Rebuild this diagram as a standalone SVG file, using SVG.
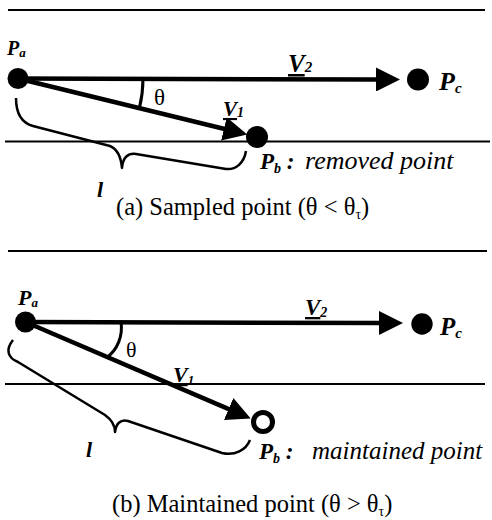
<svg xmlns="http://www.w3.org/2000/svg" width="492" height="520" viewBox="0 0 492 520">
<defs>
<style>
.sep{stroke:#000;stroke-width:2;fill:none}
.vec{stroke:#000;stroke-width:4.5;fill:none}
.arc{stroke:#000;stroke-width:3;fill:none}
.brace{stroke:#000;stroke-width:2.5;fill:none;stroke-linejoin:round}
.dot{fill:#000}
.ring{fill:#fff;stroke:#000;stroke-width:5}
.lab{font-family:"Liberation Serif","Times New Roman",serif;font-weight:bold;font-style:italic;fill:#000}
.it{font-family:"Liberation Serif","Times New Roman",serif;font-style:italic;fill:#000}
.rm{font-family:"Liberation Serif","Times New Roman",serif;fill:#000}
.ul{text-decoration:underline}
</style>
<marker id="ah" markerUnits="userSpaceOnUse" markerWidth="24" markerHeight="24" refX="4" refY="12" orient="auto">
<path d="M0,0 L24,12 L0,24 z" fill="#000"/>
</marker>
</defs>
<rect width="492" height="520" fill="#fff"/>

<g id="separators">
<line class="sep" x1="8" y1="10" x2="485" y2="10"/>
<line class="sep" x1="5" y1="141.5" x2="490" y2="141.5"/>
<line class="sep" x1="8" y1="251" x2="487" y2="251"/>
<line class="sep" x1="5" y1="384" x2="485" y2="384"/>
</g>

<g id="connectors">
<line class="vec" x1="18" y1="78.5" x2="380" y2="79.5" marker-end="url(#ah)"/>
<line class="vec" x1="18" y1="78.5" x2="227.8" y2="129.8" marker-end="url(#ah)"/>
<path class="arc" d="M143,78.5 A125,125 0 0 1 139.4,108.2"/>
<path class="brace" d="M16,98 C16,114 22,123 33,126 L110,146 C117,149 121,157 122,168 C123,157 128,153 136,154 L226,169 C236,170 244,163 246,151"/>
<line class="vec" x1="25.5" y1="322" x2="383" y2="323" marker-end="url(#ah)"/>
<line class="vec" x1="25.5" y1="322" x2="232.3" y2="410.6" marker-end="url(#ah)"/>
<path class="arc" d="M121,322 C123,335 118,350 106,358"/>
<path class="brace" d="M13,340 C5,350 8,358 18,362 L105,415 C112,420 115,426 115,432 C116,424 120,419 128,421 L222,453 C235,456 246,450 250,440"/>
</g>

<g id="panel-a">
<g id="a-Pa">
<circle class="dot" cx="18" cy="78.5" r="10.5"/>
<text class="lab" x="7" y="55" font-size="20">P<tspan font-size="13" dy="2">a</tspan></text>
</g>
<g id="a-Pc">
<circle class="dot" cx="418" cy="79.5" r="11"/>
<text class="lab" x="439" y="90" font-size="26">P<tspan font-size="15" dy="3">c</tspan></text>
</g>
<g id="a-Pb">
<circle class="dot" cx="257" cy="137" r="11"/>
<text x="260" y="169"><tspan class="lab" font-size="23">P</tspan><tspan class="lab" font-size="14" dy="4">b</tspan><tspan class="lab" font-size="23" dy="-4"> :</tspan><tspan class="it" font-size="26" x="305">removed point</tspan></text>
</g>
<text class="lab" x="288" y="72" font-size="25"><tspan class="ul">V</tspan><tspan font-size="15">2</tspan></text>
<text class="lab" x="223" y="116" font-size="21"><tspan class="ul">V</tspan><tspan font-size="14" dy="1">1</tspan></text>
<text class="rm" x="154" y="105" font-size="23">θ</text>
<text class="lab" x="97" y="197" font-size="22">l</text>
<text class="rm" x="116" y="215" font-size="24.5">(a) Sampled point (θ &lt; θ<tspan font-size="14" dy="4">τ</tspan><tspan dy="-4">)</tspan></text>
</g>

<g id="panel-b">
<g id="b-Pa">
<circle class="dot" cx="25.5" cy="322" r="10.5"/>
<text class="lab" x="18" y="305" font-size="22">P<tspan font-size="13" dy="2">a</tspan></text>
</g>
<g id="b-Pc">
<circle class="dot" cx="422" cy="324" r="10.7"/>
<text class="lab" x="440" y="335" font-size="25">P<tspan font-size="15" dy="3">c</tspan></text>
</g>
<g id="b-Pb">
<circle class="ring" cx="263" cy="422" r="9.5"/>
<text x="259" y="459"><tspan class="lab" font-size="23">P</tspan><tspan class="lab" font-size="14" dy="4">b</tspan><tspan class="lab" font-size="23" dy="-4"> :</tspan><tspan class="it" font-size="25" x="312">maintained point</tspan></text>
</g>
<text class="lab" x="305" y="315" font-size="23"><tspan class="ul">V</tspan><tspan font-size="14" dy="2">2</tspan></text>
<text class="lab" x="173" y="382" font-size="22"><tspan class="ul">V</tspan><tspan font-size="13" dy="2">1</tspan></text>
<text class="rm" x="126" y="357" font-size="22">θ</text>
<text class="lab" x="86" y="457" font-size="22">l</text>
<text class="rm" x="112" y="512" font-size="24.5">(b) Maintained point (θ &gt; θ<tspan font-size="14" dy="4">τ</tspan><tspan dy="-4">)</tspan></text>
</g>
</svg>
